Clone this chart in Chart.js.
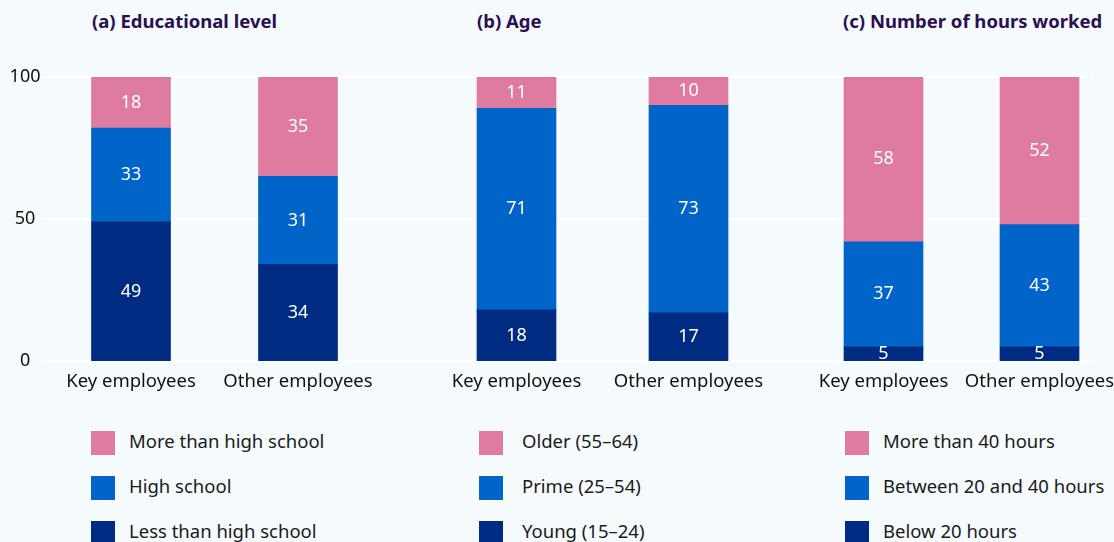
<!DOCTYPE html>
<html>
<head>
<meta charset="utf-8">
<script src="https://cdn.jsdelivr.net/npm/chart.js@4"></script>
<style>
  html, body { margin: 0; padding: 0; }
  body { width: 1114px; height: 542px; background: #f5fafd; overflow: hidden; position: relative; font-family: "Noto Sans", sans-serif; }
  .panel { position: absolute; top: 0; height: 400px; }
  .title { position: absolute; top: 8px; font: bold 18.5px "Noto Sans", sans-serif; color: #2b0f50; white-space: nowrap; }
  .legend { position: absolute; top: 431px; font-size: 18.5px; color: #1a1a1a; }
  .legend div { height: 45px; position: relative; white-space: nowrap; }
  .legend span.box { position: absolute; left: 0; top: 0; width: 24px; height: 24px; }
  .legend span.txt { position: absolute; top: -3px; }
</style>
</head>
<body>
<div class="title" style="left:92px">(a) Educational level</div>
<div class="title" style="left:477px">(b) Age</div>
<div class="title" style="left:843px">(c) Number of hours worked</div>

<div class="panel" style="left:0;width:405px"><canvas id="chartA"></canvas></div>
<div class="panel" style="left:405px;width:385px"><canvas id="chartB"></canvas></div>
<div class="panel" style="left:790px;width:330px"><canvas id="chartC"></canvas></div>

<div class="legend" id="legendA" style="left:91px"></div>
<div class="legend" id="legendB" style="left:479px"></div>
<div class="legend" id="legendC" style="left:845px"></div>

<script>
// categories on the x axis
const categories = ["Key employees", "Other employees"];
const yTicks = [0, 50, 100];

// series labels, listed top of stack first
const eduLabels = ["More than high school", "High school", "Less than high school"];
const ageLabels = ["Older (55–64)", "Prime (25–54)", "Young (15–24)"];
const hoursLabels = ["More than 40 hours", "Between 20 and 40 hours", "Below 20 hours"];

// values per series: [Key employees, Other employees]
const eduHigher = [18, 35];
const eduHighSchool = [33, 31];
const eduLower = [49, 34];

const ageOlder = [11, 10];
const agePrime = [71, 73];
const ageYoung = [18, 17];

const hoursOver40 = [58, 52];
const hours20to40 = [37, 43];
const hoursUnder20 = [5, 5];

const colors = ["#df7ba1", "#0064c8", "#002b82"];

// white grid lines across the whole panel width
const gridPlugin = {
    id: "gridLines",
    beforeDatasetsDraw(chart, args, opts) {
        const ctx = chart.ctx;
        const y = chart.scales.y;
        ctx.save();
        ctx.strokeStyle = "#ffffff";
        ctx.lineWidth = 2;
        yTicks.forEach(v => {
            const py = Math.round(y.getPixelForValue(v));
            ctx.beginPath();
            ctx.moveTo(opts.from, py);
            ctx.lineTo(opts.to, py);
            ctx.stroke();
        });
        ctx.restore();
    }
};

// value labels in the middle of each segment
const valuePlugin = {
    id: "values",
    afterDatasetsDraw(chart) {
        const ctx = chart.ctx;
        ctx.save();
        ctx.fillStyle = "#ffffff";
        ctx.font = "18px 'Noto Sans'";
        ctx.textAlign = "center";
        ctx.textBaseline = "middle";
        chart.data.datasets.forEach((ds, i) => {
            chart.getDatasetMeta(i).data.forEach((bar, j) => {
                const mid = (bar.y + bar.base) / 2;
                ctx.fillText(String(ds.data[j]), bar.x, mid);
            });
        });
        ctx.restore();
    }
};

function buildLegend(id, labels, textLeft) {
    const el = document.getElementById(id);
    labels.forEach((lab, i) => {
        const row = document.createElement("div");
        row.innerHTML = '<span class="box" style="background:' + colors[i] + '"></span>' +
            '<span class="txt" style="left:' + textLeft + 'px">' + lab + '</span>';
        el.appendChild(row);
    });
}

function makeChart(id, labels, series, showY, pad, grid) {
    // series comes top-first; stack is drawn bottom-first
    const datasets = series.map((data, i) => ({
        label: labels[i],
        data: data,
        backgroundColor: colors[i],
        barThickness: 79
    })).reverse();

    new Chart(document.getElementById(id), {
        type: "bar",
        data: { labels: categories, datasets: datasets },
        options: {
            responsive: false,
            animation: false,
            layout: { padding: { top: 77, left: pad[0], right: pad[1], bottom: 0 } },
            plugins: {
                legend: { display: false },
                tooltip: { enabled: false },
                gridLines: { from: grid[0], to: grid[1] }
            },
            scales: {
                x: {
                    stacked: true,
                    grid: { display: false },
                    border: { display: false },
                    ticks: { color: "#111111", padding: 2, font: { family: "Noto Sans", size: 18.5 } },
                    afterFit: s => { s.height = 39; }
                },
                y: {
                    stacked: true,
                    min: 0,
                    max: 100,
                    afterBuildTicks: s => { s.ticks = yTicks.map(v => ({ value: v })); },
                    grid: { display: false, drawTicks: false },
                    border: { display: false },
                    ticks: { display: showY, crossAlign: "center", padding: 7, color: "#111111", font: { family: "Noto Sans", size: 18 } },
                    afterFit: s => { s.width = showY ? 47.5 : 0; }
                }
            }
        },
        plugins: [gridPlugin, valuePlugin]
    });
}

function sizeCanvas(id, w) {
    const c = document.getElementById(id);
    c.width = w; c.height = 400;
    c.style.width = w + "px"; c.style.height = "400px";
}

sizeCanvas("chartA", 405);
sizeCanvas("chartB", 385);
sizeCanvas("chartC", 330);

makeChart("chartA", eduLabels, [eduHigher, eduHighSchool, eduLower], true, [0, 23.5], [41, 405]);
makeChart("chartB", ageLabels, [ageOlder, agePrime, ageYoung], false, [25.5, 15.5], [0, 385]);
makeChart("chartC", hoursLabels, [hoursOver40, hours20to40, hoursUnder20], false, [15.5, 2.5], [0, 304]);

buildLegend("legendA", eduLabels, 38);
buildLegend("legendB", ageLabels, 43);
buildLegend("legendC", hoursLabels, 38);
</script>
</body>
</html>
